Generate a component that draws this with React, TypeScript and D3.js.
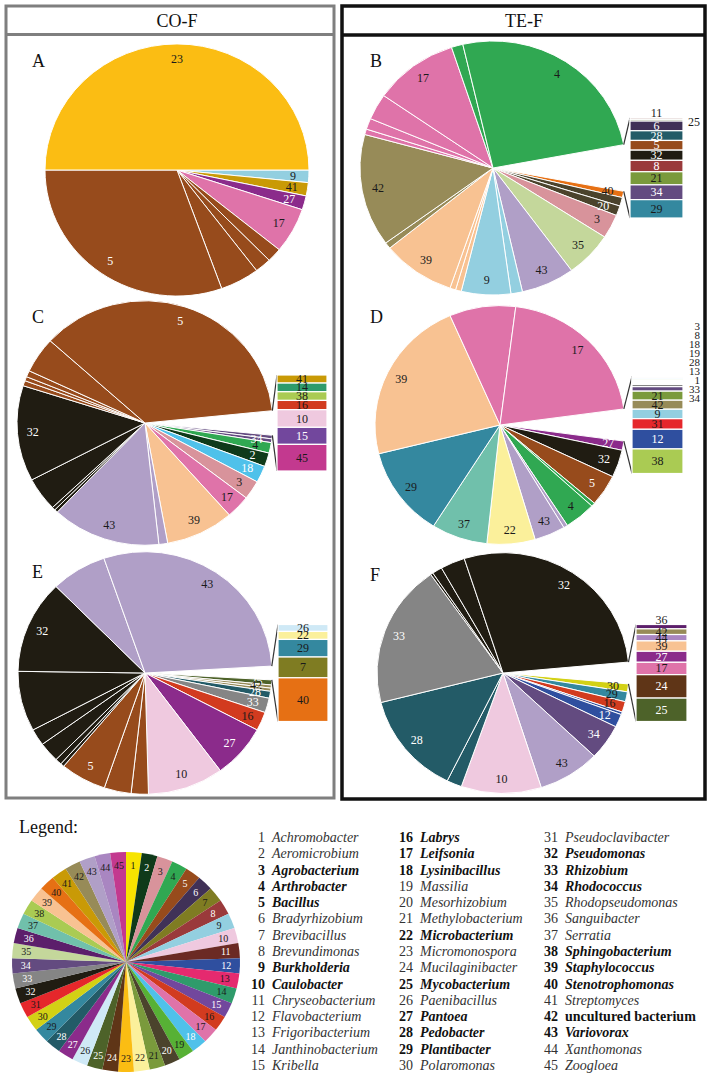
import React from "react";
import * as d3 from "d3";

// genus list used by the legend (index + 1 = genus code)
const genusNames = [
  "Achromobacter", "Aeromicrobium", "Agrobacterium", "Arthrobacter", "Bacillus",
  "Bradyrhizobium", "Brevibacillus", "Brevundimonas", "Burkholderia", "Caulobacter",
  "Chryseobacterium", "Flavobacterium", "Frigoribacterium", "Janthinobacterium", "Kribella",
  "Labrys", "Leifsonia", "Lysinibacillus", "Massilia", "Mesorhizobium",
  "Methylobacterium", "Microbacterium", "Micromonospora", "Mucilaginibacter", "Mycobacterium",
  "Paenibacillus", "Pantoea", "Pedobacter", "Plantibacter", "Polaromonas",
  "Pseudoclavibacter", "Pseudomonas", "Rhizobium", "Rhodococcus", "Rhodopseudomonas",
  "Sanguibacter", "Serratia", "Sphingobacterium", "Staphylococcus", "Stenotrophomonas",
  "Streptomyces", "uncultured bacterium", "Variovorax", "Xanthomonas", "Zoogloea",
];
const boldGenus = [3, 4, 5, 9, 10, 16, 17, 18, 22, 25, 27, 28, 29, 32, 33, 34, 38, 39, 40, 42, 43];
const genusColors = [
  "#f7e400", "#0f3a1a", "#d8939b", "#30a852", "#974b1c", "#403157", "#7f7c22", "#9a3a3b", "#93cfe0", "#efc9df",
  "#6b2a24", "#2f4f9f", "#e52a6f", "#2f9b6b", "#72479d", "#d23b1f", "#df73a9", "#4fc1ea", "#57b135", "#4b432c",
  "#7a9a3c", "#fbf09b", "#fbbd13", "#5f3517", "#4d6229", "#cfe9f6", "#8b2b8b", "#235b67", "#34889f", "#d3d115",
  "#e5272b", "#201c12", "#858585", "#634b80", "#c4d79b", "#5c1f6b", "#70c0ab", "#aacb53", "#f8c292", "#e67014",
  "#c99a06", "#978b58", "#b09fc7", "#a986c1", "#c3398f",
];
const whiteText = [2, 5, 6, 8, 11, 12, 15, 18, 20, 24, 25, 27, 28, 32, 33, 34, 36];

// A (CO-F), clockwise from 3 o'clock, % of isolates
const aGenus = [9, 41, 27, 17, 5, 5, 5, 5, 23];
const aValues = [1.6, 1.7, 1.8, 5.8, 1.8, 2.0, 4.8, 30.5, 50.0];

// B (TE-F), clockwise after the grouped wedge; bar = grouped wedge, top to bottom
const bGenus = [40, 20, 20, 3, 35, 43, 9, 9, 39, 39, 39, 42, 42, 17, 17, 17, 17, 4, 4];
const bValues = [0.8, 1.1, 1.25, 3.05, 5.8, 6.5, 1.4, 6.0, 0.7, 0.7, 8.9, 0.8, 14.3, 0.7, 1.4, 3.3, 10.3, 1.4, 25.7];
const bBarGenus = [11, 25, 6, 28, 5, 32, 8, 21, 34, 29];
const bBarValues = [0.08, 0.1, 0.57, 0.57, 0.57, 0.6, 0.67, 0.77, 0.87, 1.08];

// C (CO-F)
const cGenus = [34, 34, 4, 2, 18, 3, 17, 39, 43, 43, 32, 32, 32, 32, 5, 5, 5, 5, 5];
const cValues = [0.47, 0.5, 1.39, 1.81, 2.22, 2.5, 3.06, 8.61, 1.11, 13.75, 0.42, 0.42, 4.44, 12.64, 0.69, 0.56, 0.83, 4.72, 36.67];
const cBarGenus = [41, 14, 38, 16, 10, 15, 45];
const cBarValues = [0.27, 0.29, 0.29, 0.31, 0.59, 0.57, 0.89];

// D (TE-F)
const dGenus = [27, 32, 5, 4, 4, 43, 43, 22, 37, 29, 39, 17, 17];
const dValues = [1.25, 3.72, 4.25, 0.5, 4.06, 0.53, 4.0, 6.22, 7.25, 12.19, 22.33, 8.56, 20.83];
const dBarGenus = [3, 8, 18, 19, 28, 13, 1, 33, 34, 21, 42, 9, 31, 12, 38];
const dBarValues = [0.05, 0.05, 0.05, 0.05, 0.05, 0.05, 0.05, 0.1, 0.2, 0.4, 0.4, 0.42, 0.47, 0.87, 1.09];

// E (CO-F)
const eGenus = [25, 42, 42, 28, 33, 16, 27, 10, 5, 5, 5, 32, 32, 32, 32, 32, 32, 43, 43];
const eValues = [0.67, 0.42, 0.42, 0.92, 1.94, 2.5, 7.11, 9.67, 2.19, 3.44, 5.86, 0.47, 0.83, 2.64, 2.22, 8.0, 12.42, 7.11, 29.33];
const eBarGenus = [26, 22, 29, 7, 40];
const eBarValues = [0.13, 0.15, 0.33, 0.39, 0.82];

// F (TE-F)
const fGenus = [30, 29, 16, 12, 12, 34, 43, 10, 28, 28, 33, 32, 32, 32, 32];
const fValues = [1.06, 1.33, 1.42, 0.36, 1.75, 4.75, 7.97, 10.28, 1.94, 13.75, 19.22, 0.33, 1.28, 3.14, 28.53];
const fBarGenus = [36, 42, 44, 39, 27, 17, 24, 25];
const fBarValues = [0.13, 0.17, 0.19, 0.31, 0.33, 0.37, 0.7, 0.7];

const FONT = "'Liberation Serif', 'Tinos', 'DejaVu Serif', serif";
const SY = 0.955;

const panels = [
  { id: "A", lx: 32, ly: 67, cx: 177, cy: 170, r: 132, genus: aGenus, values: aValues },
  { id: "B", lx: 370, ly: 67, cx: 493, cy: 168, r: 133, genus: bGenus, values: bValues,
    barGenus: bBarGenus, barValues: bBarValues, barX: 630, barW: 53, barH: 100, above: 1, right: 1 },
  { id: "C", lx: 32, ly: 323, cx: 145, cy: 423, r: 128, genus: cGenus, values: cValues,
    barGenus: cBarGenus, barValues: cBarValues, barX: 277, barW: 50, barH: 96 },
  { id: "D", lx: 370, ly: 323, cx: 500, cy: 425, r: 125, genus: dGenus, values: dValues,
    barGenus: dBarGenus, barValues: dBarValues, barX: 632, barW: 51, barH: 97, column: 9 },
  { id: "E", lx: 32, ly: 578, cx: 145, cy: 673, r: 127, genus: eGenus, values: eValues,
    barGenus: eBarGenus, barValues: eBarValues, barX: 278, barW: 50, barH: 97 },
  { id: "F", lx: 370, ly: 581, cx: 503, cy: 673, r: 126, genus: fGenus, values: fValues,
    barGenus: fBarGenus, barValues: fBarValues, barX: 636, barW: 51, barH: 97, above: 1 },
];

const textFill = (g: number) => (whiteText.includes(g) ? "#fff" : "#1a1a1a");

function PiePanel({ p }: { p: any }) {
  const barValues: number[] = p.barValues || [];
  const otherV = d3.sum(barValues);
  const slices = p.genus.map((g: number, i: number) => ({ g, v: p.values[i] }));
  const data = otherV > 0 ? [{ g: 0, v: otherV }, ...slices] : slices;
  const total = d3.sum(data, (d: any) => d.v);
  const start = otherV > 0 ? Math.PI / 2 - (Math.PI * otherV) / total : Math.PI / 2;
  const arcs = d3.pie<any>().sort(null).value((d) => d.v).startAngle(start).endAngle(start + 2 * Math.PI)(data);
  const arc = d3.arc<any>().innerRadius(0).outerRadius(p.r);
  const labelArc = d3.arc<any>().innerRadius(p.r * 0.88).outerRadius(p.r * 0.88);

  // one label per genus, on its largest slice
  const best = new Map<number, any>();
  arcs.forEach((a) => {
    if (!a.data.g) return;
    const cur = best.get(a.data.g);
    if (!cur || cur.value < a.value) best.set(a.data.g, a);
  });

  let bar = null;
  if (otherV > 0) {
    const top = p.cy - p.barH / 2;
    const y = d3.scaleLinear().domain([0, otherV]).range([top, top + p.barH]);
    const cum = [0, ...d3.cumsum(barValues)];
    const o = arcs[0];
    const up = [p.cx + p.r * Math.sin(o.startAngle), p.cy - p.r * Math.cos(o.startAngle) * SY];
    const lo = [p.cx + p.r * Math.sin(o.endAngle), p.cy - p.r * Math.cos(o.endAngle) * SY];
    bar = (
      <g>
        <line x1={up[0]} y1={up[1]} x2={p.barX} y2={top} stroke="#333" strokeWidth={1.2} />
        <line x1={lo[0]} y1={lo[1]} x2={p.barX} y2={top + p.barH} stroke="#333" strokeWidth={1.2} />
        {p.barGenus.map((g: number, i: number) => (
          <rect key={i} x={p.barX} y={y(cum[i])} width={p.barW} height={y(cum[i + 1]) - y(cum[i])}
            fill={genusColors[g - 1]} stroke="#fff" strokeWidth={1.2} />
        ))}
        {p.barGenus.map((g: number, i: number) => {
          const mid = (y(cum[i]) + y(cum[i + 1])) / 2;
          let x = p.barX + p.barW / 2, ty = mid, anchor = "middle", fill = textFill(g), fs = 12;
          if (p.column && i < p.column) {
            x = 700; ty = top - 51 + i * 9; anchor = "end"; fill = "#1a1a1a"; fs = 11;
          } else if (p.above && i < p.above) {
            ty = top - 5; fill = "#1a1a1a";
          } else if (p.right && i < (p.above || 0) + p.right) {
            x = p.barX + p.barW + 5; ty = top + 4; anchor = "start"; fill = "#1a1a1a";
          }
          return (
            <text key={"t" + i} x={x} y={ty} textAnchor={anchor} dominantBaseline="central"
              fontFamily={FONT} fontSize={fs} fill={fill}>{g}</text>
          );
        })}
      </g>
    );
  }

  return (
    <g>
      <text x={p.lx} y={p.ly} fontFamily={FONT} fontSize={18} fill="#111">{p.id}</text>
      <g transform={`translate(${p.cx},${p.cy}) scale(1,${SY})`}>
        {arcs.map((a, i) =>
          a.data.g ? (
            <path key={i} d={arc(a) as string} fill={genusColors[a.data.g - 1]} stroke="#fff" strokeWidth={1} />
          ) : null
        )}
      </g>
      <g transform={`translate(${p.cx},${p.cy})`}>
        {Array.from(best.values()).map((a: any, i) => {
          const [x, yy] = labelArc.centroid(a);
          return (
            <text key={i} x={x} y={yy * SY} textAnchor="middle" dominantBaseline="central"
              fontFamily={FONT} fontSize={12} fill={textFill(a.data.g)}>{a.data.g}</text>
          );
        })}
      </g>
      {bar}
    </g>
  );
}

function LegendPie() {
  const cx = 126, cy = 962, r = 114;
  const codes = d3.range(1, 46);
  const arcs = d3.pie<number>().sort(null).value(() => 1)(codes);
  const arc = d3.arc<any>().innerRadius(0).outerRadius(r);
  const labelArc = d3.arc<any>().innerRadius(r * 0.88).outerRadius(r * 0.88);
  return (
    <g>
      <g transform={`translate(${cx},${cy}) scale(1,0.965)`}>
        {arcs.map((a, i) => (
          <path key={i} d={arc(a) as string} fill={genusColors[a.data - 1]} />
        ))}
      </g>
      <g transform={`translate(${cx},${cy})`}>
        {arcs.map((a, i) => {
          const [x, y] = labelArc.centroid(a);
          return (
            <text key={i} x={x} y={y * 0.965} textAnchor="middle" dominantBaseline="central"
              fontFamily={FONT} fontSize={10} fill={textFill(a.data)}>{a.data}</text>
          );
        })}
      </g>
    </g>
  );
}

function LegendText() {
  const numX = [265, 413, 558];
  const nameX = [272, 420, 565];
  const y = d3.scaleLinear().domain([0, 14]).range([842, 1070]);
  return (
    <g>
      {genusNames.map((name, i) => {
        const code = i + 1;
        const col = Math.floor(i / 15);
        const row = i % 15;
        const bold = boldGenus.includes(code);
        const fill = bold ? "#111" : "#333";
        return (
          <g key={code}>
            <text x={numX[col]} y={y(row)} textAnchor="end" fontFamily={FONT} fontSize={14}
              fontWeight={bold ? "bold" : "normal"} fill={fill}>{code}</text>
            <text x={nameX[col]} y={y(row)} fontFamily={FONT} fontSize={14}
              fontWeight={bold ? "bold" : "normal"}
              fontStyle={code === 42 ? "normal" : "italic"} fill={fill}>{name}</text>
          </g>
        );
      })}
    </g>
  );
}

export default function App() {
  return (
    <svg width={711} height={1076}
      style={{ position: "absolute", left: 0, top: 0, background: "#fff", fontFamily: FONT }}>
      <rect x={0} y={0} width={711} height={1076} fill="#fff" />
      {/* frames */}
      <rect x={6} y={6} width={328} height={792} fill="none" stroke="#7f7f7f" strokeWidth={3} />
      <line x1={6} x2={334} y1={34.5} y2={34.5} stroke="#7f7f7f" strokeWidth={3} />
      <rect x={342} y={6} width={363} height={793} fill="none" stroke="#111" strokeWidth={3.5} />
      <line x1={342} x2={705} y1={35} y2={35} stroke="#111" strokeWidth={3.5} />
      <text x={177} y={27} textAnchor="middle" fontFamily={FONT} fontSize={18} fill="#111">CO-F</text>
      <text x={524} y={27} textAnchor="middle" fontFamily={FONT} fontSize={18} fill="#111">TE-F</text>
      {panels.map((p) => (
        <PiePanel key={p.id} p={p} />
      ))}
      <text x={19} y={833} fontFamily={FONT} fontSize={18} fill="#111">Legend:</text>
      <LegendPie />
      <LegendText />
    </svg>
  );
}
